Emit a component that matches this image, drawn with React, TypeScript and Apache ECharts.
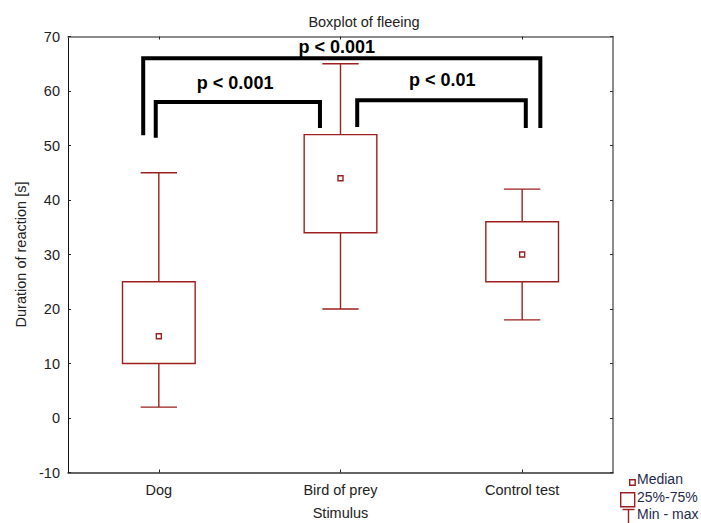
import React, { useEffect, useRef } from "react";
import * as echarts from "echarts";

const categories = ["Dog", "Bird of prey", "Control test"];
const mins = [2, 20, 18];
const q1s = [10, 34, 25];
const medians = [15, 44, 30];
const q3s = [25, 52, 36];
const maxs = [45, 65, 42];

// brackets: x in category units (0 = first category centre)
const bracketLeftX = [-0.086, -0.017, 1.092];
const bracketRightX = [2.1, 0.887, 2.02];
const bracketTop = [66, 58, 58.3];
const bracketLeftEnd = [51.9, 51.4, 53.4];
const bracketRightEnd = [53.2, 53.2, 53.2];
const bracketLabels = ["p < 0.001", "p < 0.001", "p < 0.01"];
const labelX = [0.98, 0.42, 1.56];
const labelY = [68.0, 61.5, 62.0];

const legendLabels = ["Median", "25%-75%", "Min - max"];

const RED = "#9d1f1f";
const FONT = "'Liberation Sans', Arial, sans-serif";
const FS = 14.5;
const TXT = "#222";
const LEG_TXT = "#1f2b4d";

export default function App() {
  const ref = useRef<HTMLDivElement>(null);
  useEffect(() => {
    if (!ref.current) return;
    const chart = echarts.init(ref.current, null, { renderer: "svg" });
    const boxData = categories.map((_, i) => [i, mins[i], q1s[i], medians[i], q3s[i], maxs[i]]);
    const bracketData = bracketTop.map((t) => [0, t]);
    const frameLine = { color: "#666", width: 1.5 };
    const option: any = {
      animation: false,
      backgroundColor: "#fff",
      textStyle: { fontFamily: FONT },
      title: {
        text: "Boxplot of fleeing",
        left: 359,
        top: 9,
        textAlign: "center",
        textStyle: { fontSize: FS, fontWeight: "normal", color: TXT, fontFamily: FONT },
      },
      grid: { left: 68, right: 88, top: 36.5, bottom: 50.5, outerBoundsMode: "none", containLabel: false },
      xAxis: [
        {
          type: "category",
          data: categories,
          position: "bottom",
          axisLine: { show: true, onZero: false, lineStyle: { color: "#333", width: 1.5 } },
          axisTick: { show: true, inside: true, length: 3, alignWithLabel: true, lineStyle: { color: "#222" } },
          axisLabel: { margin: 10, fontSize: FS, color: TXT, fontFamily: FONT },
          name: "Stimulus",
          nameLocation: "middle",
          nameGap: 33,
          nameTextStyle: { fontSize: FS, color: TXT, fontFamily: FONT },
          splitLine: { show: false },
        },
        {
          type: "category",
          data: categories,
          position: "top",
          axisLine: { show: true, onZero: false, lineStyle: frameLine },
          axisTick: { show: true, inside: true, length: 3, alignWithLabel: true, lineStyle: { color: "#222" } },
          axisLabel: { show: false },
          splitLine: { show: false },
        },
      ],
      yAxis: [
        {
          type: "value",
          min: -10,
          max: 70,
          interval: 10,
          position: "left",
          axisLine: { show: true, onZero: false, lineStyle: { color: "#111", width: 1 } },
          axisTick: { show: true, inside: true, length: 3, lineStyle: { color: "#222" } },
          axisLabel: { margin: 8, fontSize: FS, color: TXT, fontFamily: FONT },
          splitLine: { show: false },
          name: "Duration of reaction [s]",
          nameLocation: "middle",
          nameGap: 40,
          nameTextStyle: { fontSize: FS, color: TXT, fontFamily: FONT },
        },
        {
          type: "value",
          min: -10,
          max: 70,
          interval: 10,
          position: "right",
          axisLine: { show: true, onZero: false, lineStyle: frameLine },
          axisTick: { show: true, inside: true, length: 3, lineStyle: { color: "#333" } },
          axisLabel: { show: false },
          splitLine: { show: false },
        },
      ],
      series: [
        {
          type: "custom",
          name: "box",
          xAxisIndex: 0,
          yAxisIndex: 0,
          encode: { x: 0, y: [1, 2, 3, 4, 5] },
          data: boxData,
          renderItem: (params: any, api: any) => {
            const i = api.value(0);
            const x = api.coord([i, 0])[0];
            const bw = api.size([1, 0])[0];
            const boxW = bw * 0.4;
            const capW = bw * 0.2;
            const yMin = api.coord([i, api.value(1)])[1];
            const yQ1 = api.coord([i, api.value(2)])[1];
            const yMed = api.coord([i, api.value(3)])[1];
            const yQ3 = api.coord([i, api.value(4)])[1];
            const yMax = api.coord([i, api.value(5)])[1];
            const st = { stroke: RED, lineWidth: 1.4, fill: null };
            return {
              type: "group",
              children: [
                { type: "line", shape: { x1: x, y1: yMax, x2: x, y2: yQ3 }, style: st },
                { type: "line", shape: { x1: x, y1: yQ1, x2: x, y2: yMin }, style: st },
                { type: "line", shape: { x1: x - capW / 2, y1: yMax, x2: x + capW / 2, y2: yMax }, style: st },
                { type: "line", shape: { x1: x - capW / 2, y1: yMin, x2: x + capW / 2, y2: yMin }, style: st },
                { type: "rect", shape: { x: x - boxW / 2, y: yQ3, width: boxW, height: yQ1 - yQ3 }, style: { stroke: RED, lineWidth: 1.4, fill: "#fff" } },
                { type: "rect", shape: { x: x - 2.5, y: yMed - 2.5, width: 5, height: 5 }, style: { stroke: RED, lineWidth: 1.4, fill: "#fff" } },
              ],
            };
          },
          z: 2,
        },
        {
          type: "custom",
          name: "brackets",
          xAxisIndex: 0,
          yAxisIndex: 0,
          encode: { x: 0, y: 1 },
          data: bracketData,
          renderItem: (params: any, api: any) => {
            const k = params.dataIndex;
            const x0 = api.coord([0, 0])[0];
            const bw = api.size([1, 0])[0];
            const xl = x0 + bracketLeftX[k] * bw;
            const xr = x0 + bracketRightX[k] * bw;
            const yt = api.coord([0, bracketTop[k]])[1];
            const yl = api.coord([0, bracketLeftEnd[k]])[1];
            const yr = api.coord([0, bracketRightEnd[k]])[1];
            const tx = x0 + labelX[k] * bw;
            const ty = api.coord([0, labelY[k]])[1];
            return {
              type: "group",
              children: [
                {
                  type: "polyline",
                  shape: { points: [[xl, yl], [xl, yt], [xr, yt], [xr, yr]] },
                  style: { stroke: "#000", lineWidth: 4, fill: null, lineJoin: "miter" },
                },
                {
                  type: "text",
                  style: {
                    text: bracketLabels[k],
                    x: tx,
                    y: ty,
                    align: "center",
                    verticalAlign: "middle",
                    fontSize: 18,
                    fontWeight: "bold",
                    fontFamily: FONT,
                    fill: "#000",
                  },
                },
              ],
            };
          },
          z: 3,
        },
      ],
      graphic: [
        { type: "rect", left: 629, top: 479, shape: { width: 5.5, height: 5.5 }, style: { stroke: RED, lineWidth: 1.4, fill: "#fff" } },
        { type: "text", left: 637, top: 472, style: { text: legendLabels[0], fontSize: 14, fontFamily: FONT, fill: LEG_TXT } },
        { type: "rect", left: 620, top: 492, shape: { width: 14, height: 14 }, style: { stroke: RED, lineWidth: 1.4, fill: "#fff" } },
        { type: "text", left: 637, top: 490, style: { text: legendLabels[1], fontSize: 14, fontFamily: FONT, fill: LEG_TXT } },
        {
          type: "group",
          left: 620,
          top: 507,
          children: [
            { type: "line", shape: { x1: 0, y1: 0.5, x2: 12, y2: 0.5 }, style: { stroke: RED, lineWidth: 1.4 } },
            { type: "line", shape: { x1: 6, y1: 0.5, x2: 6, y2: 15 }, style: { stroke: RED, lineWidth: 1.4 } },
            { type: "line", shape: { x1: 0, y1: 15, x2: 12, y2: 15 }, style: { stroke: RED, lineWidth: 1.4 } },
          ],
        },
        { type: "text", left: 637, top: 507, style: { text: legendLabels[2], fontSize: 14, fontFamily: FONT, fill: LEG_TXT } },
      ],
    };
    chart.setOption(option);
    return () => chart.dispose();
  }, []);
  return <div ref={ref} style={{ position: "fixed", left: 0, top: 0, width: 701, height: 523 }} />;
}
